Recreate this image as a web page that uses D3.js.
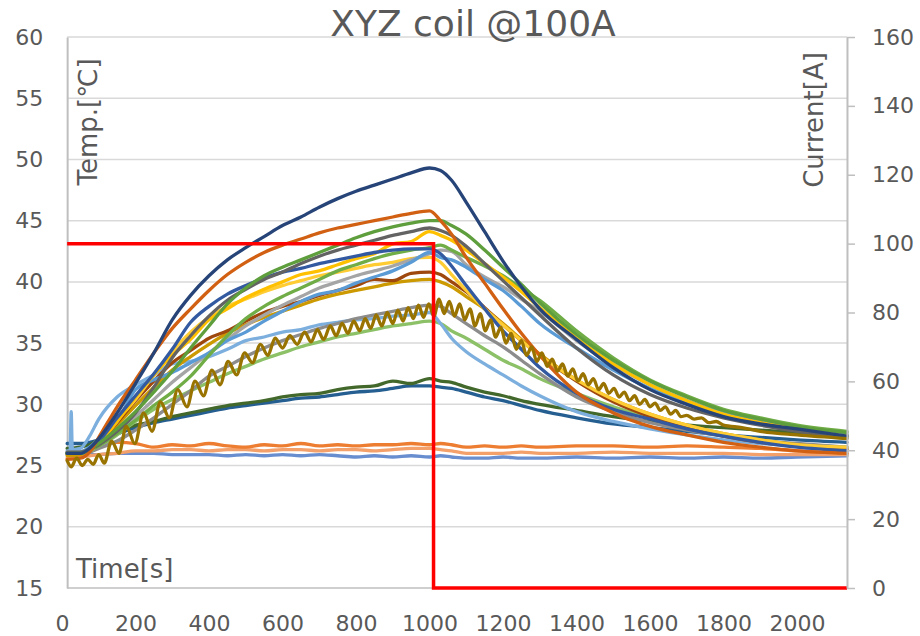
<!DOCTYPE html>
<html>
<head>
<meta charset="utf-8">
<script src="https://cdn.jsdelivr.net/npm/d3@7"></script>
<style>
  html, body { margin: 0; padding: 0; background: #fff; }
  svg { display: block; }
</style>
</head>
<body>
<svg id="chart" width="920" height="636"></svg>
<script>
// ---- data ----
const times = [14, 50, 75, 100, 150, 200, 250, 300, 350, 400, 450, 500, 550, 600, 650, 700, 750, 800, 850, 900, 950, 1000, 1030, 1060, 1100, 1150, 1200, 1250, 1300, 1400, 1500, 1600, 1700, 1800, 1900, 2000, 2136];

const navy       = [26.0, 26.0, 26.4, 27.2, 29.3, 31.7, 34.2, 36.9, 38.9, 40.5, 41.8, 42.8, 43.7, 44.6, 45.3, 46.1, 46.8, 47.4, 47.9, 48.4, 48.9, 49.3, 49.1, 48.3, 46.5, 44.1, 41.7, 39.6, 37.8, 35.3, 33.0, 31.2, 30.0, 29.0, 28.4, 28.0, 27.4];
const darkOrange = [25.5, 25.6, 26.1, 27.3, 29.8, 32.0, 34.2, 36.2, 37.8, 39.3, 40.6, 41.6, 42.4, 43.0, 43.5, 44.0, 44.4, 44.7, 45.0, 45.3, 45.6, 45.8, 45.0, 43.9, 42.0, 39.9, 37.8, 35.8, 34.0, 31.0, 29.3, 28.2, 27.5, 26.9, 26.5, 26.2, 26.0];
const green45    = [26.0, 26.0, 26.3, 26.8, 28.0, 29.4, 31.0, 32.7, 34.6, 36.4, 38.2, 39.5, 40.5, 41.2, 41.8, 42.4, 43.0, 43.6, 44.1, 44.5, 44.8, 45.0, 45.0, 44.6, 43.9, 42.6, 41.2, 39.8, 38.3, 35.7, 33.6, 31.9, 30.6, 29.5, 28.8, 28.2, 27.7];
const darkGray   = [26.1, 26.1, 26.3, 26.7, 27.8, 29.3, 31.4, 33.8, 35.6, 37.2, 38.5, 39.4, 40.2, 40.8, 41.5, 42.1, 42.6, 43.0, 43.4, 43.8, 44.1, 44.4, 44.2, 43.8, 42.9, 41.5, 40.1, 38.7, 37.3, 34.6, 32.4, 30.8, 29.7, 28.9, 28.3, 27.8, 27.3];
const yellow     = [26.0, 26.0, 26.2, 26.8, 28.6, 30.6, 32.4, 34.0, 35.3, 36.9, 37.8, 38.7, 39.4, 40.0, 40.6, 40.9, 41.4, 41.9, 42.3, 43.1, 43.3, 44.1, 43.8, 43.4, 42.6, 41.5, 40.4, 39.2, 37.9, 35.4, 33.3, 31.6, 30.3, 29.2, 28.5, 28.0, 27.4];
const lightGray  = [26.1, 26.1, 26.2, 26.6, 27.6, 29.0, 30.4, 31.8, 33.0, 34.2, 35.3, 36.4, 37.3, 38.1, 38.8, 39.5, 40.0, 40.5, 40.9, 41.3, 41.8, 42.3, 42.6, 42.5, 41.4, 40.4, 39.6, 38.6, 37.6, 35.2, 33.2, 31.6, 30.3, 29.3, 28.6, 28.0, 27.5];
const green      = [26.0, 26.0, 26.2, 26.6, 27.6, 28.7, 29.9, 31.0, 32.3, 34.0, 35.6, 37.0, 38.0, 38.8, 39.5, 40.2, 40.9, 41.4, 41.9, 42.3, 42.6, 42.8, 43.0, 42.6, 42.0, 41.3, 40.5, 39.5, 38.5, 36.0, 33.8, 32.0, 30.7, 29.6, 28.9, 28.3, 27.8];
const blue       = [26.0, 26.0, 26.4, 27.0, 28.9, 30.7, 32.5, 34.5, 36.7, 38.0, 39.0, 39.7, 40.3, 40.8, 41.1, 41.5, 41.8, 42.1, 42.4, 42.6, 42.7, 42.7, 42.3, 41.3, 39.7, 37.8, 36.0, 34.5, 33.0, 30.9, 29.6, 28.8, 28.0, 27.4, 26.9, 26.5, 26.2];
const lightBlue  = [26.0, 26.1, 26.5, 27.2, 28.6, 31.2, 32.0, 32.6, 33.4, 34.2, 35.2, 35.9, 36.8, 37.6, 38.4, 39.0, 39.3, 39.9, 40.4, 40.9, 41.6, 42.4, 42.0, 41.8, 41.2, 40.2, 39.3, 38.0, 36.6, 34.6, 32.8, 31.3, 30.2, 29.3, 28.6, 28.1, 27.5];
const paleYellow = [26.0, 26.0, 26.3, 26.9, 28.7, 30.4, 32.4, 34.3, 35.9, 37.1, 38.0, 38.6, 39.2, 39.7, 40.1, 40.5, 40.8, 41.1, 41.4, 41.6, 41.9, 42.0, 41.6, 40.6, 39.3, 37.8, 36.5, 35.2, 34.0, 32.0, 30.4, 29.2, 28.3, 27.6, 27.1, 26.7, 26.5];
const brown      = [26.0, 26.0, 26.3, 26.8, 28.5, 30.3, 31.9, 33.4, 34.4, 35.4, 36.0, 36.8, 37.5, 38.0, 38.4, 38.9, 39.3, 39.7, 40.2, 40.1, 40.7, 40.8, 40.6, 40.0, 39.2, 37.9, 36.5, 35.2, 34.0, 31.9, 30.2, 29.0, 28.1, 27.4, 26.9, 26.6, 26.3];
const gold       = [25.8, 25.9, 26.2, 26.7, 28.3, 29.9, 31.4, 32.8, 33.9, 34.9, 35.8, 36.5, 37.1, 37.6, 38.1, 38.6, 39.0, 39.3, 39.6, 39.9, 40.1, 40.2, 40.0, 39.6, 38.8, 37.8, 36.6, 35.3, 34.1, 32.0, 30.4, 29.2, 28.3, 27.6, 27.1, 26.7, 26.4];
const gray       = [26.0, 26.0, 26.1, 26.4, 27.0, 27.9, 28.9, 30.0, 31.1, 32.3, 33.1, 33.9, 34.6, 35.2, 35.7, 36.2, 36.6, 37.0, 37.3, 37.6, 37.9, 38.1, 38.0, 37.4, 36.6, 35.6, 34.7, 33.6, 32.5, 30.6, 29.4, 28.5, 27.9, 27.4, 27.0, 26.8, 26.5];
const lightGreen = [26.0, 26.0, 26.1, 26.5, 27.5, 28.6, 29.6, 30.4, 31.1, 31.8, 32.5, 33.1, 33.7, 34.2, 34.7, 35.1, 35.5, 35.8, 36.1, 36.4, 36.6, 36.8, 36.6, 36.0, 35.4, 34.5, 33.6, 32.9, 32.1, 30.9, 29.8, 28.9, 28.1, 27.5, 27.0, 26.7, 26.5];
const darkGreen  = [26.4, 26.5, 26.7, 27.1, 27.8, 28.3, 28.6, 29.0, 29.3, 29.6, 29.9, 30.1, 30.3, 30.6, 30.8, 30.9, 31.2, 31.4, 31.5, 31.9, 31.7, 32.1, 31.9, 31.8, 31.4, 31.0, 30.7, 30.3, 30.0, 29.5, 29.0, 28.6, 28.3, 28.1, 27.9, 27.7, 27.5];
const darkBlue   = [26.8, 26.8, 26.9, 27.1, 27.6, 28.1, 28.5, 28.8, 29.1, 29.4, 29.7, 29.9, 30.1, 30.3, 30.5, 30.6, 30.8, 31.0, 31.1, 31.3, 31.5, 31.5, 31.4, 31.3, 31.0, 30.6, 30.3, 29.9, 29.5, 28.9, 28.4, 28.1, 27.8, 27.5, 27.3, 27.1, 26.9];
const orangeFlat = [25.9, 26.1, 26.4, 26.7, 26.9, 26.8, 26.5, 26.7, 26.6, 26.8, 26.6, 26.5, 26.7, 26.6, 26.8, 26.6, 26.7, 26.6, 26.7, 26.7, 26.8, 26.7, 26.8, 26.7, 26.5, 26.6, 26.5, 26.6, 26.5, 26.6, 26.6, 26.5, 26.6, 26.5, 26.4, 26.2, 26.0];
const peachFlat  = [25.6, 25.7, 25.8, 25.9, 26.0, 26.2, 26.2, 26.3, 26.3, 26.2, 26.3, 26.3, 26.2, 26.3, 26.3, 26.2, 26.3, 26.3, 26.2, 26.3, 26.4, 26.4, 26.3, 26.2, 26.0, 26.0, 26.0, 26.1, 26.0, 26.0, 26.1, 26.0, 26.0, 26.0, 25.9, 25.9, 25.9];
const blueFlat   = [26.0, 25.9, 25.9, 25.9, 26.0, 26.0, 26.0, 25.9, 25.9, 25.9, 25.8, 25.9, 25.8, 25.9, 25.8, 25.9, 25.8, 25.7, 25.8, 25.7, 25.8, 25.7, 25.8, 25.7, 25.6, 25.6, 25.7, 25.6, 25.6, 25.7, 25.6, 25.7, 25.6, 25.7, 25.6, 25.7, 25.8];

// sensor with the start-up spike
const skyTimes = [14, 22, 25, 28, 50, 75, 100, 150, 200, 250, 300, 350, 400, 450, 500, 550, 600, 650, 700, 750, 800, 850, 900, 950, 1000, 1030, 1060, 1100, 1150, 1200, 1250, 1300, 1400, 1500, 1600, 1700, 1800, 1900, 2000, 2136];
const skyBlue  = [26.2, 26.2, 29.4, 26.3, 26.4, 27.4, 28.8, 30.6, 31.6, 32.4, 33.3, 33.5, 33.9, 34.5, 35.2, 35.5, 35.9, 36.1, 36.5, 36.7, 36.9, 37.0, 37.2, 37.3, 37.5, 36.6, 35.4, 34.3, 33.3, 32.4, 31.5, 30.7, 29.4, 28.6, 28.0, 27.5, 27.1, 26.8, 26.6, 26.4];

// oscillating sensor (crest / trough readings)
const oliveTimes = [14, 25, 40, 55, 70, 85, 100, 115, 135, 155, 175, 198, 222, 245, 268, 292, 315, 340, 362, 385, 408, 430, 452, 475, 497, 518, 540, 560, 580, 600, 620, 640, 660, 678, 695, 712, 730, 746, 762, 778, 794, 810, 825, 840, 855, 870, 885, 900, 914, 928, 942, 956, 970, 984, 998, 1012, 1026, 1040, 1054, 1068, 1082, 1096, 1110, 1124, 1138, 1152, 1166, 1180, 1194, 1208, 1222, 1236, 1250, 1264, 1278, 1292, 1306, 1320, 1334, 1348, 1362, 1376, 1390, 1404, 1418, 1432, 1446, 1460, 1474, 1488, 1502, 1516, 1530, 1544, 1558, 1572, 1586, 1600, 1614, 1628, 1642, 1656, 1670, 1684, 1700, 1720, 1740, 1760, 1780, 1800, 1850, 1900, 2000, 2136];
const olive      = [25.4, 24.9, 25.6, 25.0, 25.5, 25.1, 25.9, 25.2, 27.0, 26.0, 28.2, 26.8, 29.3, 27.8, 30.2, 28.9, 31.2, 29.8, 31.9, 30.7, 32.8, 31.6, 33.5, 32.4, 34.2, 33.4, 34.9, 34.0, 35.4, 34.6, 35.6, 34.9, 35.9, 35.1, 36.1, 35.3, 36.4, 35.6, 36.6, 35.8, 36.8, 36.0, 37.0, 36.2, 37.3, 36.4, 37.5, 36.6, 37.7, 36.8, 37.9, 37.0, 38.1, 37.1, 38.2, 37.2, 38.6, 37.4, 38.4, 37.2, 38.2, 36.9, 37.8, 36.4, 37.4, 36.0, 36.9, 35.5, 36.3, 35.0, 35.8, 34.5, 35.2, 34.0, 34.7, 33.5, 34.2, 33.1, 33.7, 32.7, 33.3, 32.3, 32.9, 31.9, 32.5, 31.6, 32.1, 31.2, 31.7, 30.9, 31.3, 30.6, 31.0, 30.3, 30.7, 30.0, 30.4, 29.8, 30.1, 29.5, 29.8, 29.2, 29.5, 29.0, 29.1, 28.8, 28.9, 28.5, 28.6, 28.3, 28.1, 27.8, 27.5, 27.2];

// coil current (secondary axis)
const currentTimes = [14, 1011, 1011, 2136];
const currentAmps  = [100, 100, 0, 0];

const tempTicks = [15, 20, 25, 30, 35, 40, 45, 50, 55, 60];
const ampTicks  = [0, 20, 40, 60, 80, 100, 120, 140, 160];
const timeTicks = [0, 200, 400, 600, 800, 1000, 1200, 1400, 1600, 1800, 2000];

// drawing order: first = bottom
const series = [
  { vals: blueFlat,   color: "#698ED0" },
  { vals: peachFlat,  color: "#F4A06A" },
  { vals: orangeFlat, color: "#ED7D31" },
  { vals: darkBlue,   color: "#255E91" },
  { vals: darkGreen,  color: "#43682B" },
  { vals: lightGreen, color: "#8CC168" },
  { vals: skyBlue,    color: "#7CAFDD", t: skyTimes },
  { vals: gray,       color: "#8C8C8C" },
  { vals: gold,       color: "#CC9A00" },
  { vals: brown,      color: "#9E480E" },
  { vals: paleYellow, color: "#FFCD33" },
  { vals: lightGray,  color: "#A5A5A5" },
  { vals: lightBlue,  color: "#5B9BD5" },
  { vals: green,      color: "#70AD47" },
  { vals: yellow,     color: "#FFC000" },
  { vals: blue,       color: "#335AA1" },
  { vals: darkGray,   color: "#636363" },
  { vals: green45,    color: "#5E9E3C" },
  { vals: darkOrange, color: "#D26012" },
  { vals: navy,       color: "#264478" },
  { vals: olive,      color: "#997300", t: oliveTimes }
];

// ---- chart ----
const W = 920, H = 636;
const FONT = "'DejaVu Sans', Verdana, sans-serif";
const TXT = "#595959";
const svg = d3.select("#chart");

const x  = d3.scaleLinear().domain([0, 2000]).range([62, 797]);
const yL = d3.scaleLinear().domain([15, 60]).range([588, 37]);
const yR = d3.scaleLinear().domain([0, 160]).range([588, 37]);
const x0 = x(times[0]), x1 = x(times[times.length - 1]);

// gridlines
svg.append("g").selectAll("line").data(tempTicks.slice(1)).join("line")
  .attr("x1", x0).attr("x2", x1)
  .attr("y1", d => yL(d)).attr("y2", d => yL(d))
  .attr("stroke", "#D9D9D9").attr("stroke-width", 1.5);
svg.append("line")
  .attr("x1", x0).attr("x2", x1).attr("y1", yL(15)).attr("y2", yL(15))
  .attr("stroke", "#BFBFBF").attr("stroke-width", 1.5);

// left axis
const gl = svg.append("g").attr("transform", `translate(${x0},0)`)
  .call(d3.axisLeft(yL).tickValues(tempTicks).tickSize(0).tickPadding(24));
gl.select(".domain").attr("stroke", "#BFBFBF").attr("stroke-width", 2);

// bottom axis (labels only)
const gb = svg.append("g").attr("transform", `translate(0,${yL(15)})`)
  .call(d3.axisBottom(x).tickValues(timeTicks).tickFormat(d3.format("d")).tickSize(0).tickPadding(27));
gb.select(".domain").remove();

// temperature lines
const line = d3.line()
  .x(d => x(d[0])).y(d => yL(d[1]))
  .curve(d3.curveMonotoneX);

svg.append("g").attr("fill", "none")
  .selectAll("path").data(series).join("path")
  .attr("d", s => line((s.t || times).map((t, i) => [t, s.vals[i]])))
  .attr("stroke", s => s.color)
  .attr("stroke-width", 3.3)
  .attr("stroke-linejoin", "round")
  .attr("stroke-linecap", "round");

// current (secondary axis)
svg.append("path")
  .attr("d", d3.line().x(d => x(d[0])).y(d => yR(d[1]))(currentTimes.map((t, i) => [t, currentAmps[i]])))
  .attr("fill", "none").attr("stroke", "#FF0000").attr("stroke-width", 3.5);

// right axis
const gr = svg.append("g").attr("transform", `translate(${x1},0)`)
  .call(d3.axisRight(yR).tickValues(ampTicks).tickSize(8).tickSizeOuter(0).tickPadding(17));
gr.select(".domain").attr("stroke", "#BFBFBF").attr("stroke-width", 2);
gr.selectAll(".tick line").attr("stroke", "#BFBFBF").attr("stroke-width", 1.5);

[gl, gb, gr].forEach(g => g.selectAll("text")
  .style("font-family", FONT).style("font-size", "22px").attr("fill", TXT));

// titles
svg.append("text")
  .attr("x", 473).attr("y", 36)
  .attr("text-anchor", "middle")
  .style("font-family", FONT).style("font-size", "36px").attr("fill", TXT)
  .text("XYZ coil @100A");

svg.append("text")
  .attr("transform", "translate(97,122) rotate(-90)")
  .attr("text-anchor", "middle")
  .style("font-family", FONT).style("font-size", "26px").attr("fill", TXT)
  .text("Temp.[℃]");

svg.append("text")
  .attr("transform", "translate(823,120) rotate(-90)")
  .attr("text-anchor", "middle")
  .style("font-family", FONT).style("font-size", "26px").attr("fill", TXT)
  .text("Current[A]");

svg.append("text")
  .attr("x", 76).attr("y", 578)
  .style("font-family", FONT).style("font-size", "26px").attr("fill", TXT)
  .text("Time[s]");
</script>
</body>
</html>
